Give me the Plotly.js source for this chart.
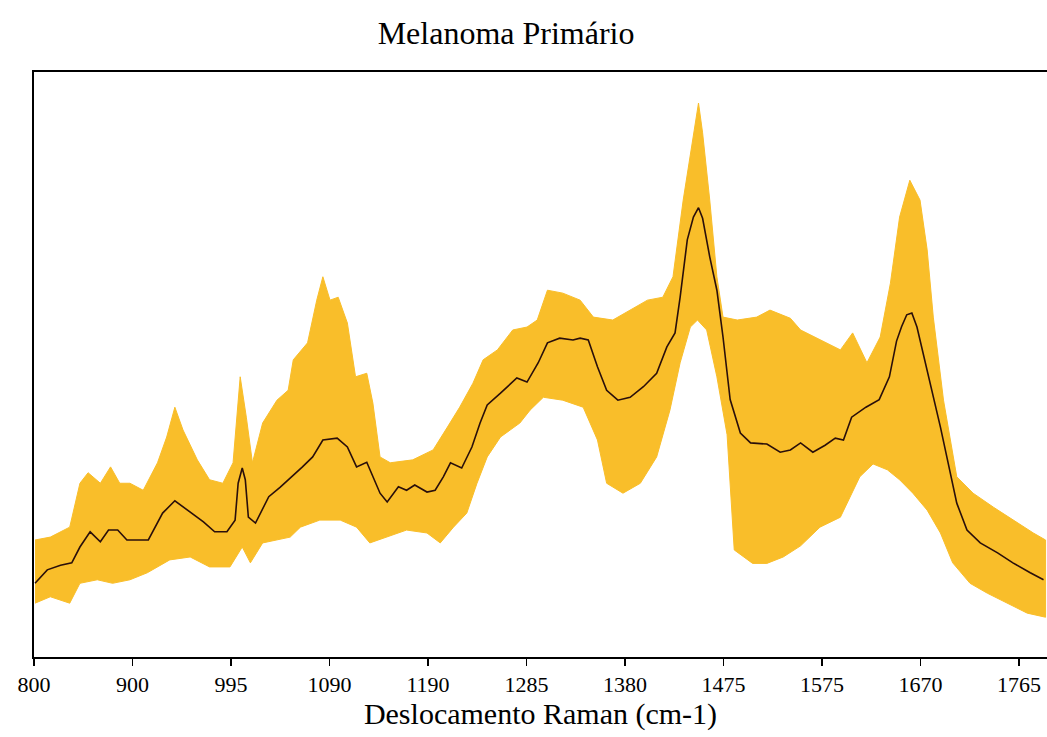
<!DOCTYPE html>
<html>
<head>
<meta charset="utf-8">
<script src="https://cdn.plot.ly/plotly-3.0.1.min.js"></script>
<style>html,body{margin:0;padding:0;background:#fff;}#chart{width:1047px;height:737px;}</style>
</head>
<body>
<div id="chart"></div>
<script>
// Tick labels (evenly spaced positions on the original axis)
const tickLabels = ["800","900","995","1090","1190","1285","1380","1475","1575","1670","1765"];

// Mean spectrum
const meanWn = [801,813,826,837,845,855,865,873,882,891,912,926,938,950,966,977,989,997,1000,1004,1007,1010,1017,1030,1041,1063,1073,1083,1097,1107,1116,1126,1132,1139,1146,1157,1165,1173,1185,1193,1201,1208,1219,1229,1237,1244,1257,1273,1283,1294,1303,1315,1328,1335,1343,1352,1361,1372,1384,1397,1410,1420,1428,1433,1440,1446,1451,1455,1462,1469,1475,1482,1492,1502,1518,1531,1541,1551,1563,1575,1585,1593,1601,1615,1628,1638,1645,1650,1655,1660,1665,1671,1678,1688,1697,1704,1714,1727,1744,1759,1776,1789];
const meanY = [0.126,0.149,0.157,0.161,0.188,0.214,0.197,0.217,0.217,0.200,0.200,0.246,0.267,0.251,0.231,0.214,0.214,0.234,0.297,0.323,0.303,0.239,0.229,0.274,0.290,0.325,0.342,0.371,0.374,0.359,0.325,0.333,0.308,0.280,0.265,0.291,0.285,0.294,0.282,0.285,0.308,0.332,0.323,0.359,0.400,0.431,0.451,0.477,0.470,0.503,0.537,0.545,0.542,0.545,0.542,0.496,0.456,0.439,0.444,0.462,0.485,0.530,0.554,0.615,0.713,0.752,0.768,0.750,0.684,0.627,0.547,0.440,0.383,0.366,0.364,0.350,0.354,0.366,0.350,0.362,0.374,0.371,0.410,0.427,0.440,0.479,0.540,0.565,0.585,0.588,0.564,0.520,0.468,0.393,0.320,0.263,0.217,0.195,0.178,0.161,0.144,0.132];

// Upper envelope of the band
const upperWn = [801,816,835,845,853,865,875,884,894,907,921,930,938,946,960,972,985,995,1002,1008,1014,1024,1038,1049,1054,1068,1077,1083,1090,1098,1107,1115,1126,1132,1139,1149,1171,1191,1205,1217,1230,1240,1254,1269,1283,1293,1303,1318,1335,1348,1367,1384,1401,1416,1426,1436,1445,1451,1455,1462,1469,1475,1489,1508,1521,1541,1551,1570,1590,1602,1616,1629,1639,1648,1658,1668,1675,1681,1691,1704,1720,1740,1759,1779,1791];
const upperY = [0.200,0.205,0.222,0.297,0.315,0.297,0.325,0.297,0.297,0.285,0.332,0.376,0.427,0.388,0.337,0.303,0.297,0.332,0.479,0.410,0.332,0.400,0.439,0.456,0.508,0.537,0.610,0.650,0.610,0.615,0.571,0.479,0.485,0.434,0.342,0.332,0.337,0.354,0.393,0.427,0.468,0.508,0.525,0.559,0.564,0.576,0.627,0.622,0.610,0.581,0.576,0.593,0.610,0.615,0.650,0.781,0.884,0.947,0.896,0.781,0.650,0.581,0.576,0.581,0.593,0.579,0.559,0.542,0.525,0.554,0.503,0.547,0.639,0.752,0.815,0.781,0.696,0.581,0.439,0.308,0.280,0.256,0.234,0.212,0.200];

// Lower envelope of the band
const lowerWn = [801,816,835,845,862,877,894,911,933,953,972,992,1004,1012,1024,1051,1061,1080,1100,1116,1129,1146,1165,1185,1198,1211,1224,1234,1244,1257,1276,1286,1299,1318,1338,1352,1361,1377,1394,1410,1423,1433,1443,1450,1459,1469,1479,1486,1504,1518,1534,1551,1570,1590,1609,1622,1636,1648,1661,1675,1688,1700,1717,1734,1753,1773,1791];
const lowerY = [0.092,0.103,0.092,0.126,0.132,0.126,0.132,0.144,0.166,0.171,0.154,0.154,0.188,0.161,0.195,0.205,0.222,0.234,0.234,0.222,0.195,0.205,0.217,0.212,0.195,0.222,0.246,0.297,0.342,0.376,0.400,0.422,0.444,0.439,0.427,0.371,0.297,0.280,0.297,0.342,0.422,0.503,0.564,0.576,0.559,0.479,0.380,0.183,0.160,0.160,0.171,0.190,0.222,0.239,0.308,0.330,0.320,0.303,0.280,0.251,0.212,0.161,0.126,0.109,0.092,0.075,0.068];

const xStart = 800, xEnd = 1765;
const tickVals = tickLabels.map((_, i) => xStart + i * (xEnd - xStart) / (tickLabels.length - 1));

const band = {
  x: upperWn.concat(lowerWn.slice().reverse()),
  y: upperY.concat(lowerY.slice().reverse()),
  type: 'scatter', mode: 'lines', fill: 'toself',
  fillcolor: '#F9BE2A', line: {color: '#F9BE2A', width: 1},
  hoverinfo: 'skip', showlegend: false
};
const mean = {
  x: meanWn, y: meanY, type: 'scatter', mode: 'lines',
  line: {color: '#2a0f0a', width: 1.6}, showlegend: false
};

const font = 'Liberation Serif, Times New Roman, serif';
const layout = {
  width: 1047, height: 737,
  margin: {l: 34, r: 0, t: 72, b: 80},
  paper_bgcolor: '#ffffff', plot_bgcolor: '#ffffff',
  showlegend: false,
  title: {text: 'Melanoma Primário', font: {family: font, size: 32, color: '#000'},
          x: 0.466, xref: 'paper', xanchor: 'center', y: 0.955, yref: 'container', yanchor: 'middle'},
  xaxis: {
    range: [800, 1792.4], showgrid: false, zeroline: false,
    showline: true, linecolor: '#000', linewidth: 2, mirror: true,
    ticks: 'outside', ticklen: 7, tickwidth: 1.5, tickcolor: '#000',
    tickvals: tickVals, ticktext: tickLabels,
    tickfont: {family: font, size: 22, color: '#000'},
    title: {text: 'Deslocamento Raman (cm-1)', font: {family: font, size: 30, color: '#000'}, standoff: 6}
  },
  yaxis: {
    range: [0, 1], showgrid: false, zeroline: false,
    showline: true, linecolor: '#000', linewidth: 2, mirror: false,
    ticks: '', showticklabels: false
  }
};

Plotly.newPlot('chart', [band, mean], layout, {displayModeBar: false, staticPlot: true});
</script>
</body>
</html>
